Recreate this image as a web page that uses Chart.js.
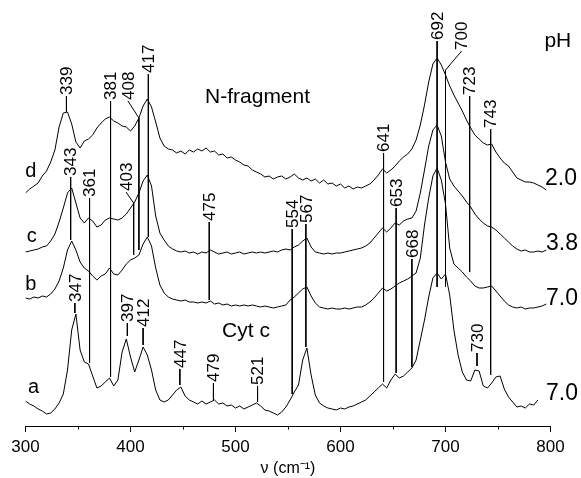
<!DOCTYPE html>
<html>
<head>
<meta charset="utf-8">
<script src="https://cdn.jsdelivr.net/npm/chart.js@4.4.1/dist/chart.umd.min.js"></script>
<style>
    html, body { margin: 0; padding: 0; background: #fff; }
    canvas { display: block; }
</style>
</head>
<body>
<canvas id="chart" width="581" height="478"></canvas>
<script>
'use strict';

// Raman shift grid (cm-1), 4 cm-1 steps
const wavenumbers = [];
for (let v = 300; v <= 796; v += 4) wavenumbers.push(v);

// intensities (arbitrary units, offset per trace as in the figure)
const specA = [
    25, 22, 20, 17, 15, 12, 13, 17, 23, 32,
    56, 96, 112, 76, 64, 62, 50, 38, 40, 44,
    48, 40, 46, 74, 87, 69, 54, 66, 79, 71,
    56, 36, 26, 24, 26, 31, 36, 39, 30, 26,
    24, 22, 25, 22, 24, 26, 22, 23, 20, 21,
    18, 20, 17, 19, 21, 23, 20, 16, 15, 13,
    11, 14, 19, 26, 34, 41, 66, 78, 51, 31,
    23, 20, 18, 17, 16, 18, 17, 19, 20, 22,
    24, 26, 30, 34, 38, 42, 38, 46, 52, 48,
    50, 54, 58, 66, 86, 106, 129, 148, 153, 147,
    152, 131, 96, 71, 54, 46, 45, 56, 55, 40,
    38, 43, 49, 50, 37, 29, 24, 19, 20, 18,
    22, 21, 26, null, null
];
const specB = [
    128, 127, 129, 128, 130, 129, 132, 137, 145, 158,
    176, 185, 176, 164, 158, 155, 150, 146, 150, 152,
    158, 152, 151, 156, 162, 166, 168, 171, 182, 189,
    180, 158, 141, 133, 129, 127, 126, 125, 126, 124,
    124, 123, 124, 123, 125, 122, 123, 121, 122, 120,
    121, 120, 121, 120, 121, 120, 119, 120, 119, 118,
    119, 120, 121, 126, 129, 133, 137, 139, 130, 123,
    119, 118, 117, 118, 117, 117, 118, 117, 118, 119,
    119, 121, 124, 128, 133, 138, 135, 137, 140, 143,
    145, 147, 150, 153, 168, 201, 228, 250, 258, 246,
    222, 178, 162, 158, 154, 149, 145, 140, 138, 138,
    139, 140, 135, 130, 125, 121, 119, 118, 119, 117,
    118, 118, 119, 120, 122
];
const specC = [
    174, 175, 176, 177, 179, 180, 185, 192, 204, 218,
    233, 238, 223, 208, 203, 208, 205, 199, 201, 206,
    208, 207, 206, 208, 212, 218, 224, 233, 245, 251,
    240, 210, 193, 186, 180, 177, 175, 174, 175, 173,
    174, 172, 174, 173, 176, 174, 172, 173, 174, 172,
    173, 174, 172, 173, 174, 173, 174, 173, 174, 175,
    174, 176, 177, 176, 179, 181, 185, 188, 179, 174,
    173, 172, 173, 172, 173, 173, 174, 175, 176, 177,
    178, 180, 183, 188, 193, 198, 194, 198, 203, 201,
    205, 207, 208, 215, 233, 256, 280, 296, 301, 290,
    264, 247, 240, 235, 230, 224, 219, 212, 207, 203,
    200, 199, 196, 192, 188, 184, 180, 177, 175, 176,
    174, 174, 175, 174, 176
];
const specD = [
    233, 237, 240, 243, 250, 255, 264, 276, 299, 313,
    314, 302, 284, 278, 285, 287, 291, 298, 303, 307,
    309, 305, 303, 300, 299, 295, 300, 308, 320, 327,
    319, 304, 288, 280, 277, 276, 273, 275, 272, 276,
    274, 277, 275, 278, 274, 275, 271, 272, 268, 269,
    266, 264, 261, 260, 256, 254, 252, 249, 250, 247,
    249, 250, 247, 249, 252, 248, 246, 248, 245, 247,
    243, 246, 242, 243, 240, 242, 238, 240, 237, 239,
    238, 240, 242, 246, 251, 257, 253, 256, 260, 265,
    269, 272, 277, 286, 301, 321, 344, 362, 368, 361,
    351, 340, 331, 323, 315, 306, 298, 291, 287, 283,
    281, 282, 274, 268, 263, 260, 254, 248, 246, 244,
    244, 243, 241, 239, 236
];

// band assignments: label, band position, label position, label start, line end
const peakLabels = ['339', '381', '408', '417', '343', '361', '403', '475', '554', '567', '641', '653',
    '668', '692', '700', '723', '743', '347', '397', '412', '447', '479', '521', '730'];
const peakPos = [339, 381, 408, 417, 343, 361, 403, 475, 554, 567, 641, 653,
    668, 692, 700, 723, 743, 347, 397, 412, 447, 479, 521, 730];
const textPos = [339, 381, 397.6, 417, 343, 361, 395.7, 475, 554, 567, 641, 653,
    668, 692, 715.4, 723, 743, 347, 397, 412, 447, 479, 521, 730];
const textBase = [331, 326, 326, 353, 250, 229, 235, 205, 198, 203, 274, 219,
    168, 386, 376, 331, 298, 124, 104, 99, 58, 44, 41, 74];
const lineTop = [330, 325, 308, 352, 249, 228, 223, 204, 197, 202, 273, 218,
    167, 385, 356, 330, 297, 123, 103, 98, 57, 43, 40, 73];
const lineBottom = [314, 49, 176, 189, 186, 63, 171, 126, 32, 79, 44, 53,
    59, 139, 139, 154, 51, 113, 90, 81, 41, 26, 24, 60];

// trace letters, pH values and sample names
const sideLabels = ['pH', '2.0', '3.8', '7.0', '7.0', 'd', 'c', 'b', 'a', 'N-fragment', 'Cyt c'];
const sideX = [807, 810, 811, 811, 811, 305, 306, 305, 307.6, 521, 510];
const sideY = [379, 241, 176, 121, 26, 249, 184, 136, 33, 323, 89];
const sideSize = [21, 23, 23, 23, 23, 20, 20, 20, 20, 21, 21];

const minorTicks = [350, 450, 550, 650, 750];

const FONT = '"Liberation Sans", Arial, Helvetica, sans-serif';

function trace(values) {
    return {
        data: wavenumbers.map((v, i) => ({x: v, y: values[i]})).filter(p => p.y !== null),
        borderColor: '#000',
        borderWidth: 1,
        pointRadius: 0,
        showLine: true,
        fill: false
    };
}

function segment(x1, y1, x2, y2) {
    return {
        data: [{x: x1, y: y1}, {x: x2, y: y2}],
        borderColor: '#000',
        borderWidth: 1,
        pointRadius: 0,
        showLine: true,
        fill: false
    };
}

const datasets = [trace(specA), trace(specB), trace(specC), trace(specD)];
peakLabels.forEach((t, i) => {
    if (textPos[i] !== peakPos[i]) {
        datasets.push(segment(textPos[i], textBase[i] - 1, peakPos[i], lineTop[i]));
    }
    datasets.push(segment(peakPos[i], lineTop[i], peakPos[i], lineBottom[i]));
});

const annotate = {
    id: 'annotate',
    afterDatasetsDraw(chart) {
        const {ctx, scales: {x, y}} = chart;
        ctx.save();
        ctx.fillStyle = '#000';

        // rotated band labels
        ctx.font = '17px ' + FONT;
        ctx.textAlign = 'left';
        ctx.textBaseline = 'middle';
        peakLabels.forEach((t, i) => {
            ctx.save();
            ctx.translate(x.getPixelForValue(textPos[i]), y.getPixelForValue(textBase[i]));
            ctx.rotate(-Math.PI / 2);
            ctx.fillText(t, 0, 1);
            ctx.restore();
        });

        ctx.textAlign = 'center';
        ctx.textBaseline = 'alphabetic';
        sideLabels.forEach((t, i) => {
            ctx.font = sideSize[i] + 'px ' + FONT;
            ctx.fillText(t, x.getPixelForValue(sideX[i]), y.getPixelForValue(sideY[i]));
        });

        // short minor ticks on the x axis
        ctx.strokeStyle = '#000';
        ctx.lineWidth = 1;
        const base = chart.chartArea.bottom;
        minorTicks.forEach(v => {
            const px = Math.round(x.getPixelForValue(v)) + 0.5;
            ctx.beginPath();
            ctx.moveTo(px, base);
            ctx.lineTo(px, base + 3.5);
            ctx.stroke();
        });
        ctx.restore();
    }
};

new Chart(document.getElementById('chart'), {
    type: 'scatter',
    data: {datasets},
    options: {
        responsive: false,
        animation: false,
        layout: {padding: {left: 25.5, right: 30.5, top: 0, bottom: 0}},
        plugins: {legend: {display: false}, tooltip: {enabled: false}},
        scales: {
            x: {
                type: 'linear',
                min: 300,
                max: 800,
                afterFit(scale) {
                    scale.height = 52;
                },
                ticks: {
                    stepSize: 100,
                    color: '#000',
                    padding: 5,
                    maxRotation: 0,
                    font: {family: FONT, size: 17}
                },
                grid: {drawOnChartArea: false, tickLength: 6, tickColor: '#000', color: '#000'},
                border: {display: true, color: '#000', width: 1},
                title: {
                    display: true,
                    text: 'ν (cm⁻¹)',
                    color: '#000',
                    padding: {top: 0, bottom: 0},
                    font: {family: FONT, size: 16}
                }
            },
            y: {display: false, min: 0, max: 426}
        }
    },
    plugins: [annotate]
});
</script>
</body>
</html>
